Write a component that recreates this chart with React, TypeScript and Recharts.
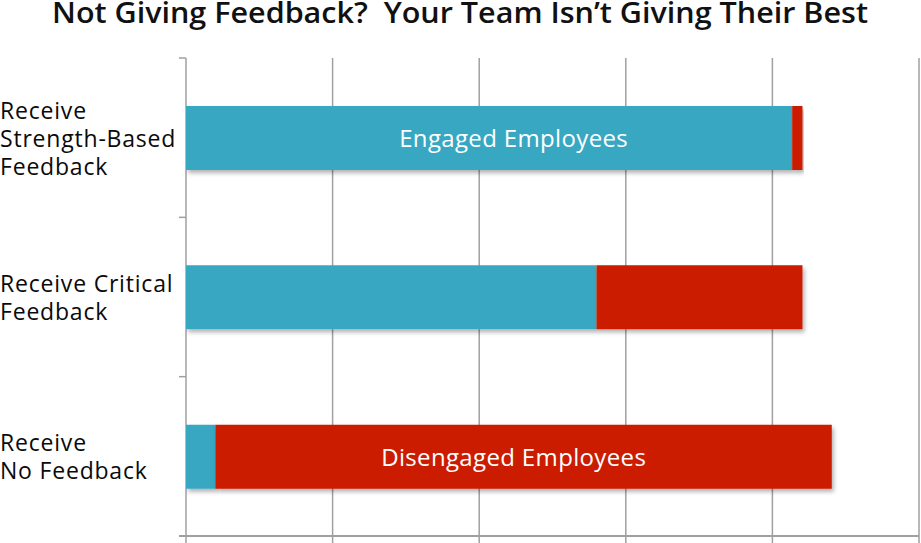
import React from "react";
import { BarChart, Bar, XAxis, YAxis, CartesianGrid, LabelList } from "recharts";

const categories = ["Strength-Based", "Critical", "None"];
const categoryLines = [
  ["Receive", "Strength-Based", "Feedback"],
  ["Receive Critical", "Feedback"],
  ["Receive", "No Feedback"],
];
const engaged = [82.7, 56.0, 4.0];
const disengaged = [1.4, 28.1, 84.1];
const engagedLabels = ["Engaged Employees", "", ""];
const disengagedLabels = ["", "", "Disengaged Employees"];
const xTicks = [0, 20, 40, 60, 80, 100];
const LABEL_CENTER_VALUE = 44.7;
const TITLE = "Not Giving Feedback?  Your Team Isn\u2019t Giving Their Best";

const data = categories.map((c, i) => ({
  category: c,
  lines: categoryLines[i],
  engaged: engaged[i],
  disengaged: disengaged[i],
  engagedLabel: engagedLabels[i],
  disengagedLabel: disengagedLabels[i],
  engagedStart: 0,
  disengagedStart: engaged[i],
}));

const FONT = "'Open Sans', 'Noto Sans', sans-serif";
const TEAL = "#38A7C2";
const RED = "#CC1D00";
const GRID = "#A0A0A0";
const Y_AXIS_WIDTH = 186;

const EmptyTick = () => <g />;

const YTick = (props: any) => {
  const { x, y, payload, index } = props;
  const row = data[index] || data.find((d) => d.category === payload.value);
  const lines: string[] = row ? row.lines : [String(payload.value)];
  const half = payload && typeof payload.offset === "number" && payload.offset > 0 ? payload.offset : 79.7;
  const lh = 28;
  const startY = y - ((lines.length - 1) * lh) / 2 + 9;
  return (
    <g>
      <line x1={x - 7} x2={x} y1={y - half} y2={y - half} stroke={GRID} strokeWidth={1.5} />
      {index === data.length - 1 && (
        <line x1={x - 7} x2={x} y1={y + half} y2={y + half} stroke={GRID} strokeWidth={2} />
      )}
      {lines.map((l, i) => (
        <text
          key={i}
          x={x - Y_AXIS_WIDTH}
          y={startY + i * lh}
          fontFamily={FONT}
          fontSize={23}
          letterSpacing={0.8}
          fill="#0a0a0a"
          textAnchor="start"
        >
          {l}
        </text>
      ))}
    </g>
  );
};

const makeLabel = (
  labelKey: "engagedLabel" | "disengagedLabel",
  startKey: "engagedStart" | "disengagedStart",
  valueKey: "engaged" | "disengaged"
) =>
  (props: any) => {
    const { x, y, width, height, index } = props;
    const row = data[index];
    if (!row || !row[labelKey]) return null;
    const start = row[startKey];
    const val = row[valueKey];
    const cx = x + ((LABEL_CENTER_VALUE - start) / val) * width;
    return (
      <text
        x={cx}
        y={y + height / 2}
        dy={9}
        textAnchor="middle"
        fontFamily={FONT}
        fontSize={24}
        letterSpacing={0.35}
        fill="#ffffff"
      >
        {row[labelKey]}
      </text>
    );
  };

export default function App() {
  return (
    <div style={{ position: "absolute", left: 0, top: 0, width: 921, height: 543, background: "#fff" }}>
      <svg width={921} height={44} style={{ position: "absolute", left: 0, top: 0 }}>
        <text
          x={460}
          y={23}
          textAnchor="middle"
          fontFamily={FONT}
          fontSize={28}
          fontWeight={600}
          fill="#111"
          xmlSpace="preserve"
          style={{ whiteSpace: "pre" }}
          textLength={816}
          lengthAdjust="spacingAndGlyphs"
        >
          {TITLE}
        </text>
      </svg>
      <div style={{ position: "absolute", left: 0, top: 0 }}>
        <BarChart
          width={921}
          height={543}
          data={data}
          layout="vertical"
          margin={{ top: 58, right: 2, bottom: 0, left: 0 }}
          barSize={64}
        >
          <defs>
            <filter id="barShadow" x="-5%" y="-20%" width="115%" height="150%">
              <feDropShadow dx={2} dy={3} stdDeviation={2} floodColor="#000" floodOpacity={0.3} />
            </filter>
          </defs>
          <CartesianGrid horizontal={false} vertical stroke={GRID} strokeWidth={1.5} />
          <XAxis
            type="number"
            domain={[0, 100]}
            ticks={xTicks}
            interval={0}
            height={7}
            tick={<EmptyTick />}
            tickSize={7}
            tickLine={{ stroke: GRID, strokeWidth: 1.5 }}
            axisLine={{ stroke: GRID, strokeWidth: 2 }}
            allowDataOverflow
          />
          <YAxis
            type="category"
            dataKey="category"
            width={Y_AXIS_WIDTH}
            axisLine={false}
            tickLine={false}
            tickSize={0}
            tickMargin={0}
            interval={0}
            tick={<YTick />}
          />
          <Bar dataKey="engaged" stackId="a" fill={TEAL} isAnimationActive={false} filter="url(#barShadow)">
            <LabelList dataKey="engagedLabel" content={makeLabel("engagedLabel", "engagedStart", "engaged")} />
          </Bar>
          <Bar dataKey="disengaged" stackId="a" fill={RED} isAnimationActive={false} filter="url(#barShadow)">
            <LabelList
              dataKey="disengagedLabel"
              content={makeLabel("disengagedLabel", "disengagedStart", "disengaged")}
            />
          </Bar>
        </BarChart>
      </div>
    </div>
  );
}
